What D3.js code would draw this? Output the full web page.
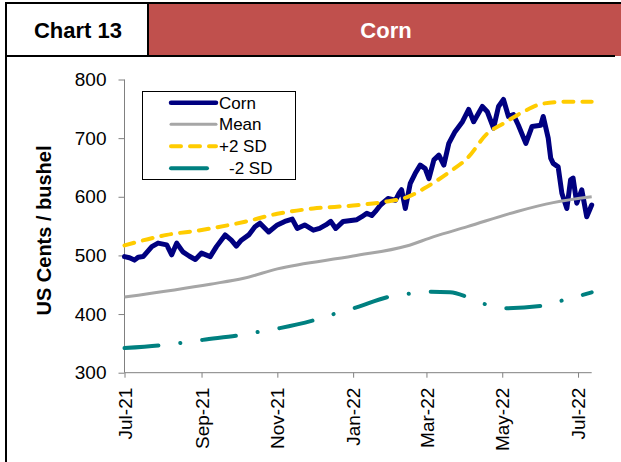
<!DOCTYPE html>
<html>
<head>
<meta charset="utf-8">
<script src="https://cdn.jsdelivr.net/npm/d3@7"></script>
<style>
  html, body { margin: 0; padding: 0; background: #fff; }
  svg { display: block; font-family: "Liberation Sans", Arial, sans-serif; }
</style>
</head>
<body>
<svg id="chart" width="621" height="462"></svg>
<script>
// ---------- DATA ----------
const chartNumber = "Chart 13";
const chartTitle = "Corn";
const yAxisTitle = "US Cents / bushel";
const yTicks = [300, 400, 500, 600, 700, 800];
const xTickDates = ["2021-07-01","2021-09-01","2021-11-01","2022-01-01","2022-03-01","2022-05-01","2022-07-01"];
const seriesNames = ["Corn", "Mean", "+2 SD", " -2 SD"];

const corn = [
  ["2021-07-01",498],["2021-07-05",496],["2021-07-09",492],["2021-07-12",497],["2021-07-16",498],["2021-07-23",515],["2021-07-28",521],
  ["2021-08-04",518],["2021-08-08",501],["2021-08-12",521],["2021-08-17",506],["2021-08-22",499],["2021-08-27",493],
  ["2021-09-01",504],["2021-09-08",498],["2021-09-13",515],["2021-09-20",535],["2021-09-25",526],
  ["2021-09-29",516],["2021-10-03",526],["2021-10-09",535],["2021-10-14",549],["2021-10-18",555],
  ["2021-10-25",540],["2021-11-01",552],["2021-11-07",558],["2021-11-13",562],["2021-11-17",546],
  ["2021-11-23",552],["2021-11-30",543],["2021-12-05",546],["2021-12-10",552],["2021-12-14",558],["2021-12-18",546],
  ["2021-12-24",558],["2022-01-04",561],["2022-01-08",566],["2022-01-12",572],["2022-01-16",568],["2022-01-19",575],["2022-01-23",586],
  ["2022-01-29",597],["2022-02-04",594],["2022-02-07",606],["2022-02-09",612],["2022-02-12",580],["2022-02-16",623],
  ["2022-02-20",640],["2022-02-24",654],["2022-02-28",648],["2022-03-03",631],["2022-03-07",663],
  ["2022-03-11",671],["2022-03-15",654],["2022-03-19",691],["2022-03-24",711],["2022-03-30",728],
  ["2022-04-04",749],["2022-04-08",728],["2022-04-15",754],["2022-04-19",745],["2022-04-24",717],
  ["2022-04-28",754],["2022-05-02",766],["2022-05-06",737],["2022-05-10",740],["2022-05-14",722],
  ["2022-05-20",691],["2022-05-25",720],["2022-06-01",722],["2022-06-03",737],["2022-06-07",700],
  ["2022-06-09",666],["2022-06-11",657],["2022-06-15",651],["2022-06-18",606],["2022-06-22",580],["2022-06-25",629],
  ["2022-06-27",632],["2022-06-30",589],["2022-07-04",612],["2022-07-08",566],["2022-07-12",586]
];
const mean = [
  ["2021-07-01",429],["2021-09-08",451],["2021-10-05",461],["2021-11-01",477],["2022-01-01",499],
  ["2022-02-13",516],["2022-03-07",532],["2022-04-03",549],["2022-05-13",575],["2022-06-11",590],
  ["2022-07-12",600]
];
const plus2sd = [
  ["2021-07-01",517],["2021-08-04",535],["2021-08-31",543],["2021-10-05",557],["2021-11-01",571],
  ["2021-11-30",580],["2022-01-01",585],["2022-01-28",592],["2022-02-13",599],["2022-02-27",614],
  ["2022-03-20",643],["2022-04-03",666],["2022-04-19",708],["2022-05-02",725],["2022-05-18",745],
  ["2022-06-03",759],["2022-06-22",762],["2022-07-12",762]
];
const minus2sd = [
  ["2021-07-01",342],["2021-07-31",347],["2021-08-16",351],["2021-09-02",356],["2021-10-02",364],
  ["2021-10-18",370],["2021-11-03",376],["2021-12-03",391],["2021-12-18",401],["2022-01-03",411],
  ["2022-01-31",430],["2022-02-16",435],["2022-03-04",438],["2022-03-20",437],["2022-04-03",429],
  ["2022-04-17",417],["2022-05-03",410],["2022-06-02",414],["2022-06-18",423],["2022-07-12",437]
];

// ---------- LAYOUT ----------
const svg = d3.select("#chart");
const parse = d3.timeParse("%Y-%m-%d");
const x = d3.scaleTime().domain([parse("2021-07-01"), parse("2022-07-12")]).range([124.5, 591.7]);
const y = d3.scaleLinear().domain([300, 800]).range([372.7, 79.5]);

// Header
svg.append("rect").attr("x", 148).attr("y", 3).attr("width", 473).attr("height", 53).attr("fill", "#C0504D");
const border = svg.append("g").attr("stroke", "#000").attr("stroke-width", 2);
border.append("line").attr("x1", 5).attr("x2", 621).attr("y1", 3).attr("y2", 3);
border.append("line").attr("x1", 6).attr("x2", 6).attr("y1", 2).attr("y2", 462);
border.append("line").attr("x1", 148).attr("x2", 148).attr("y1", 2).attr("y2", 56);
border.append("line").attr("x1", 5).attr("x2", 615).attr("y1", 56).attr("y2", 56);
svg.append("text").attr("x", 78).attr("y", 38).attr("text-anchor", "middle")
  .attr("font-size", 22).attr("font-weight", "bold").attr("fill", "#000").text(chartNumber);
svg.append("text").attr("x", 386).attr("y", 38).attr("text-anchor", "middle")
  .attr("font-size", 22).attr("font-weight", "bold").attr("fill", "#fff").text(chartTitle);

// Axes
const yAxis = d3.axisLeft(y).tickValues(yTicks).tickSize(6).tickPadding(12).tickFormat(d3.format("d"));
const gy = svg.append("g").attr("transform", "translate(124.5,0)").call(yAxis);
gy.select(".domain").attr("stroke", "#808080").attr("d", `M0,${y(300)}V${y(800)}`);
gy.selectAll(".tick line").attr("stroke", "#808080");
gy.selectAll(".tick text").attr("font-size", 19).attr("fill", "#000").attr("font-family", "Liberation Sans, Arial, sans-serif");

const xAxis = d3.axisBottom(x).tickValues(xTickDates.map(parse)).tickSize(5).tickFormat(d3.timeFormat("%b-%y"));
const gx = svg.append("g").attr("transform", `translate(0,${y(300)})`).call(xAxis);
gx.select(".domain").attr("stroke", "#808080").attr("d", `M${x.range()[0]},0H${x.range()[1]}`);
gx.selectAll(".tick line").attr("stroke", "#808080");
gx.selectAll(".tick text").attr("font-size", 19).attr("fill", "#000").attr("font-family", "Liberation Sans, Arial, sans-serif")
  .attr("transform", "rotate(-90)").attr("x", -15).attr("y", 0).attr("dy", "0.35em").style("text-anchor", "end");

svg.append("text").attr("transform", "translate(50.5,230.5) rotate(-90)").attr("text-anchor", "middle")
  .attr("font-size", 20).attr("font-weight", "bold").attr("fill", "#000").text(yAxisTitle);

// Lines
const line = d3.line().x(d => x(parse(d[0]))).y(d => y(d[1]));
const smooth = d3.line().x(d => x(parse(d[0]))).y(d => y(d[1])).curve(d3.curveMonotoneX);

svg.append("path").datum(corn).attr("d", line).attr("fill", "none").attr("stroke", "#000080")
  .attr("stroke-width", 5).attr("stroke-linejoin", "round").attr("stroke-linecap", "round");
svg.append("path").datum(mean).attr("d", smooth).attr("fill", "none").attr("stroke", "#A6A6A6")
  .attr("stroke-width", 3);
svg.append("path").datum(plus2sd).attr("d", smooth).attr("fill", "none").attr("stroke", "#FFCC00")
  .attr("stroke-width", 4).attr("stroke-dasharray", "10 9").attr("stroke-linecap", "round");
svg.append("path").datum(minus2sd).attr("d", smooth).attr("fill", "none").attr("stroke", "#008080")
  .attr("stroke-width", 4).attr("stroke-dasharray", "34 22 0.1 22").attr("stroke-linecap", "round");

// Legend
const lg = svg.append("g");
lg.append("rect").attr("x", 142.5).attr("y", 91.5).attr("width", 153).attr("height", 88)
  .attr("fill", "#fff").attr("stroke", "#000").attr("stroke-width", 1);
const legendStyles = [
  {c: "#000080", w: 4.5, dash: null, x2: 216},
  {c: "#A6A6A6", w: 3, dash: null, x2: 216},
  {c: "#FFCC00", w: 4, dash: "10 9", x2: 216},
  {c: "#008080", w: 4, dash: null, x2: 207}
];
const rowY = [102.7, 124.2, 146.2, 168.2];
seriesNames.forEach((n, i) => {
  const s = legendStyles[i];
  lg.append("line").attr("x1", 171).attr("x2", s.x2).attr("y1", rowY[i]).attr("y2", rowY[i])
    .attr("stroke", s.c).attr("stroke-width", s.w).attr("stroke-linecap", "round")
    .attr("stroke-dasharray", s.dash);
  lg.append("text").attr("x", i === 3 ? 229 : 219).attr("y", rowY[i] + 6).attr("font-size", 17)
    .attr("fill", "#000").text(n.trim());
});
</script>
</body>
</html>
